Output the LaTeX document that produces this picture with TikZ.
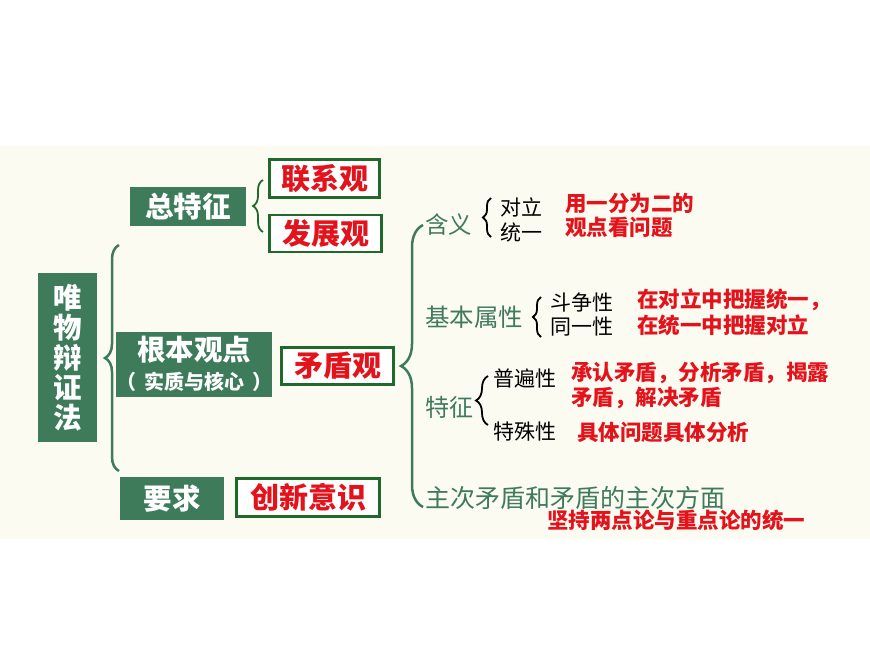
\documentclass[tikz,border=0pt]{standalone}
\usepackage{fontspec}
\setmainfont{Noto Sans CJK SC}
\usetikzlibrary{decorations.pathreplacing}
\definecolor{gbox}{HTML}{3D7B5B}
\definecolor{gtext}{HTML}{3F7A5C}
\definecolor{gborder}{HTML}{21692A}
\definecolor{rtext}{HTML}{E3121B}
\definecolor{cream}{HTML}{FCFBF1}
\tikzset{
  greenbox/.style={fill=gbox, text=white, inner sep=0pt, align=center,
    font=\bfseries\fontsize{28.5}{30}\selectfont},
  redbox/.style={draw=gborder, line width=2.8pt, fill=white, text=rtext, inner sep=0pt,
    font=\bfseries\fontsize{29}{30}\selectfont},
  greenlabel/.style={anchor=west, inner sep=0pt, text=gtext, font=\fontsize{24}{26}\selectfont},
  blacklabel/.style={anchor=west, inner sep=0pt, text=black, font=\fontsize{21}{23}\selectfont},
  redlabel/.style={anchor=west, inner sep=0pt, text=rtext, font=\bfseries\fontsize{21.5}{23}\selectfont},
  bracegreen/.style={decorate, decoration={brace, amplitude=#1}, draw=gtext, line width=2.5pt},
  braceblack/.style={decorate, decoration={brace, amplitude=#1}, draw=black, line width=1.8pt},
  bracedark/.style={decorate, decoration={brace, amplitude=#1}, draw=gborder, line width=1.8pt},
}
\begin{document}
\begin{tikzpicture}[x=1pt, y=-1pt]
\useasboundingbox (0,0) rectangle (870,653);
\fill[cream] (0,146) rectangle (870,539);

% left column boxes
\node[greenbox, minimum width=59pt, minimum height=169pt] (wei) at (67.5,357.5)
  {唯\\物\\辩\\证\\法};
\node[greenbox, minimum width=116pt, minimum height=39pt] (zong) at (188,206.5) {总特征};
\node[greenbox, minimum width=150pt, minimum height=65pt] (genben) at (194,364)
  {根本观点\\[-1pt]{\fontsize{20}{21}\selectfont （\hspace{8pt}实质与核心\hspace{8pt}）}};
\node[greenbox, minimum width=104pt, minimum height=43pt] (yaoqiu) at (172,498.5) {要求};

% red boxes
\node[redbox, minimum width=110pt, minimum height=38pt] (lianxi) at (324.5,178.5) {联系观};
\node[redbox, minimum width=112pt, minimum height=37pt] (fazhan) at (325.5,233.5) {发展观};
\node[redbox, minimum width=112pt, minimum height=37pt] (maodun) at (337.5,366) {矛盾观};
\node[redbox, minimum width=143pt, minimum height=38pt] (chuangxin) at (308,497.5) {创新意识};

% right-hand labels
\node[greenlabel, font=\fontsize{23.5}{25}\selectfont] (hanyi) at (425,225) {含义};
\node[blacklabel] (duili) at (500,207) {对立};
\node[blacklabel] (tongyi) at (500,232) {统一};
\node[redlabel] (r1) at (565,203) {用一分为二的};
\node[redlabel] (r2) at (565,227) {观点看问题};

\node[greenlabel, font=\fontsize{24.5}{26}\selectfont] (jiben) at (425,317) {基本属性};
\node[blacklabel] (douzheng) at (550,302) {斗争性};
\node[blacklabel] (tongyixing) at (550,327) {同一性};
\node[redlabel] (r3) at (637,300) {在对立中把握统一，};
\node[redlabel] (r4) at (637,325) {在统一中把握对立};

\node[greenlabel] (tezheng) at (425,407) {特征};
\node[blacklabel] (pubian) at (493,378) {普遍性};
\node[blacklabel] (teshu) at (493,432) {特殊性};
\node[redlabel] (r5) at (571,373) {承认矛盾，分析矛盾，揭露};
\node[redlabel] (r6) at (571,398) {矛盾，解决矛盾};
\node[redlabel] (r7) at (577,432) {具体问题具体分析};

\node[greenlabel, font=\fontsize{25}{27}\selectfont] (zhuci) at (425,498) {主次矛盾和矛盾的主次方面};
\node[redlabel] (r8) at (547,520) {坚持两点论与重点论的统一};

% brace end points
\coordinate (bLb) at (119,471);
\coordinate (bLt) at (119,245);
\coordinate (bZb) at (263,232);
\coordinate (bZt) at (263,180);
\coordinate (bRb) at (423,507);
\coordinate (bRt) at (423,225);
\coordinate (bHb) at (491,237);
\coordinate (bHt) at (491,198);
\coordinate (bJb) at (541,337);
\coordinate (bJt) at (541,297);
\coordinate (bTb) at (488,425);
\coordinate (bTt) at (488,376);

\draw[bracegreen=14pt] (bLb) -- (bLt);
\draw[bracedark=10pt] (bZb) -- (bZt);
\draw[bracegreen=22pt] (bRb) -- (bRt);
\draw[braceblack=8pt] (bHb) -- (bHt);
\draw[braceblack=8pt] (bJb) -- (bJt);
\draw[braceblack=12pt] (bTb) -- (bTt);
\end{tikzpicture}
\end{document}
